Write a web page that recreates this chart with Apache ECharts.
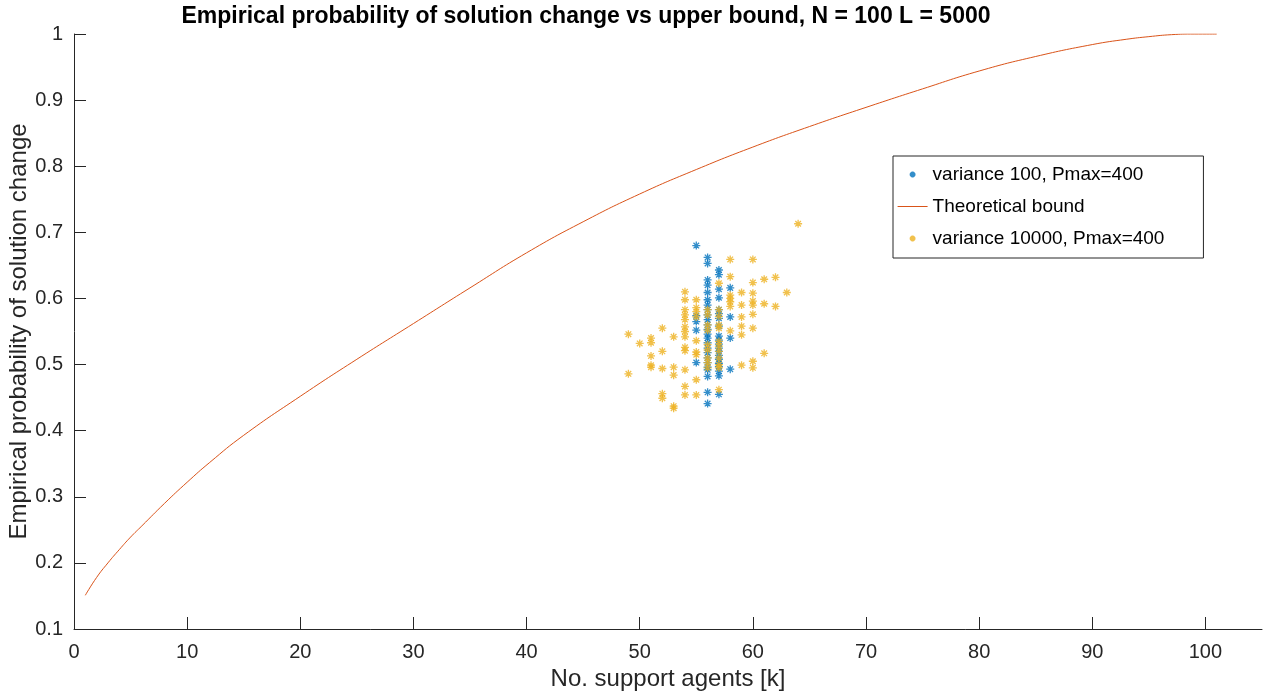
<!DOCTYPE html>
<html>
<head>
<meta charset="utf-8">
<script src="https://cdn.jsdelivr.net/npm/echarts@6/dist/echarts.min.js"></script>
<style>
  html, body { margin: 0; padding: 0; background: #fff; }
  #chart { width: 1263px; height: 691px; }
</style>
</head>
<body>
<div id="chart"></div>
<script>
// theoretical upper bound
const boundK = [1, 2, 3, 4, 5, 6, 8, 10, 12, 15, 20, 25, 30, 35, 40, 45, 50, 55, 60, 65, 70, 75, 80, 85, 90, 93, 95, 97, 99, 101]
const boundP = [0.151, 0.178, 0.200, 0.220, 0.239, 0.256, 0.290, 0.322, 0.352, 0.393, 0.452, 0.508, 0.562, 0.616, 0.669, 0.716, 0.758, 0.795, 0.829, 0.860, 0.889, 0.917, 0.944, 0.966, 0.984, 0.992, 0.996, 0.999, 1.000, 1.000]

// empirical points, grouped by number of support agents
const lowVarCols = [
  [55, [0.680, 0.574, 0.565, 0.552, 0.503]],
  [56, [0.662, 0.653, 0.628, 0.620, 0.609, 0.598, 0.590, 0.583, 0.575, 0.568, 0.560, 0.553, 0.546, 0.540, 0.533, 0.525, 0.518, 0.510, 0.503, 0.496, 0.492, 0.482, 0.458, 0.441]],
  [57, [0.643, 0.636, 0.614, 0.601, 0.583, 0.577, 0.570, 0.558, 0.543, 0.537, 0.531, 0.525, 0.520, 0.514, 0.508, 0.502, 0.497, 0.490, 0.483, 0.455]],
  [58, [0.616, 0.572, 0.540, 0.493]]
]
const highVarCols = [
  [49, [0.546, 0.486]],
  [50, [0.532]],
  [51, [0.540, 0.533, 0.513, 0.499, 0.496]],
  [52, [0.555, 0.520, 0.494, 0.456, 0.449]],
  [53, [0.542, 0.496, 0.484, 0.437, 0.434]],
  [54, [0.610, 0.598, 0.583, 0.575, 0.568, 0.557, 0.550, 0.542, 0.526, 0.521, 0.492, 0.467, 0.454]],
  [55, [0.598, 0.586, 0.580, 0.572, 0.536, 0.519, 0.515, 0.477, 0.454]],
  [56, [0.583, 0.575, 0.560, 0.552, 0.530, 0.522, 0.510, 0.503, 0.495]],
  [57, [0.623, 0.583, 0.573, 0.560, 0.555, 0.535, 0.528, 0.520, 0.510, 0.500, 0.495, 0.462]],
  [58, [0.659, 0.633, 0.605, 0.600, 0.595, 0.588, 0.551]],
  [59, [0.609, 0.590, 0.572, 0.558, 0.545, 0.499]],
  [60, [0.659, 0.624, 0.608, 0.596, 0.590, 0.576, 0.555, 0.505, 0.495]],
  [61, [0.629, 0.592, 0.517]],
  [62, [0.632, 0.588]],
  [63, [0.609]],
  [64, [0.713]]
]

const xTicks = [0, 10, 20, 30, 40, 50, 60, 70, 80, 90, 100]
const yTicks = [0.1, 0.2, 0.3, 0.4, 0.5, 0.6, 0.7, 0.8, 0.9, 1]

const lowVarName = 'variance 100, Pmax=400'
const boundName = 'Theoretical bound'
const highVarName = 'variance 10000, Pmax=400'

const FONT = '"Liberation Sans", Arial, Helvetica, sans-serif'
const INK = '#262626'
const BLUE = '#0072BD'
const ORANGE = '#D95319'
const YELLOW = '#EDB120'

// asterisk marker (MATLAB '*')
const STAR = 'path://M0,-10L0,10M-10,0L10,0M-7,-7L7,7M-7,7L7,-7'
// padded versions so the legend icons keep their size inside the 30x14 box
const STAR_LEGEND = 'path://M-25,-12M25,12M0,-5L0,5M-5,0L5,0M-3.5,-3.5L3.5,3.5M-3.5,3.5L3.5,-3.5'
const LINE_LEGEND = 'path://M0,0M30,14M0,7L30,7'

const toPoints = cols => {
  const pts = []
  cols.forEach(([k, vals]) => vals.forEach(v => pts.push([k, v])))
  return pts
}

const chart = echarts.init(document.getElementById('chart'))

const option = {
  animation: false,
  textStyle: { fontFamily: FONT },
  title: {
    text: 'Empirical probability of solution change vs upper bound, N = 100 L = 5000',
    left: 586,
    top: 5,
    textAlign: 'center',
    padding: 0,
    textStyle: { fontFamily: FONT, fontSize: 23, fontWeight: 'bold', color: '#000' }
  },
  legend: {
    orient: 'vertical',
    left: 893,
    top: 156,
    padding: [9, 39, 10, 4],
    itemWidth: 30,
    itemHeight: 14,
    itemGap: 13,
    borderColor: INK,
    borderWidth: 1,
    backgroundColor: '#fff',
    selectedMode: false,
    textStyle: { fontFamily: FONT, fontSize: 19, color: '#000' },
    data: [
      { name: lowVarName, icon: STAR_LEGEND },
      { name: boundName, icon: LINE_LEGEND, itemStyle: { color: 'rgba(0,0,0,0)', borderColor: ORANGE, borderWidth: 1 } },
      { name: highVarName, icon: STAR_LEGEND }
    ]
  },
  grid: {
    left: 74,
    right: 1,
    top: 34,
    bottom: 62,
    containLabel: false,
    outerBoundsMode: 'none'
  },
  xAxis: {
    type: 'value',
    min: 0,
    max: 105,
    name: 'No. support agents [k]',
    nameLocation: 'middle',
    nameGap: 38,
    nameMoveOverlap: false,
    nameTextStyle: { fontFamily: FONT, fontSize: 24, color: INK },
    axisLine: { lineStyle: { color: INK, width: 1 } },
    axisTick: { inside: true, length: 12, customValues: xTicks, lineStyle: { color: INK } },
    axisLabel: { customValues: xTicks, fontSize: 20, color: INK, margin: 13, fontFamily: FONT },
    splitLine: { show: false }
  },
  yAxis: {
    type: 'value',
    min: 0.1,
    max: 1,
    name: 'Empirical probability of solution change',
    nameLocation: 'middle',
    nameGap: 43,
    nameMoveOverlap: false,
    nameTextStyle: { fontFamily: FONT, fontSize: 24, color: INK },
    axisLine: { show: true, lineStyle: { color: INK, width: 1 } },
    axisTick: { show: true, inside: true, length: 12, customValues: yTicks, lineStyle: { color: INK } },
    axisLabel: { customValues: yTicks, fontSize: 20, color: INK, margin: 11, fontFamily: FONT },
    splitLine: { show: false }
  },
  series: [
    {
      name: lowVarName,
      type: 'scatter',
      symbol: STAR,
      symbolSize: 8,
      itemStyle: { color: 'rgba(0,0,0,0)', borderColor: BLUE, borderWidth: 1.3 },
      data: toPoints(lowVarCols),
      z: 3
    },
    {
      name: boundName,
      type: 'line',
      smooth: true,
      symbol: 'none',
      lineStyle: { color: ORANGE, width: 1 },
      itemStyle: { color: ORANGE },
      data: boundK.map((k, i) => [k, boundP[i]]),
      z: 2
    },
    {
      name: highVarName,
      type: 'scatter',
      symbol: STAR,
      symbolSize: 8,
      itemStyle: { color: 'rgba(0,0,0,0)', borderColor: YELLOW, borderWidth: 1.3 },
      data: toPoints(highVarCols),
      z: 4
    }
  ]
}

chart.setOption(option)
</script>
</body>
</html>
